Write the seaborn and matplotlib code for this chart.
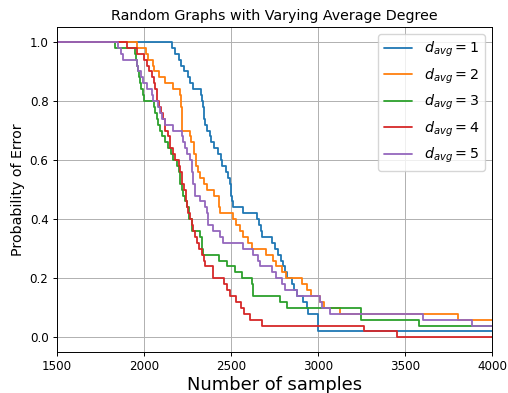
import matplotlib
matplotlib.use("Agg")
import matplotlib.pyplot as plt
import seaborn as sns
import pandas as pd

# step points (x where value changes, value after change)
x_d1 = [1500, 2160, 2180, 2200, 2215, 2230, 2250, 2265, 2280, 2330, 2335, 2340, 2345, 2350, 2360,
        2380, 2385, 2400, 2425, 2440, 2450, 2470, 2485, 2495, 2500, 2505, 2510, 2570, 2650, 2660,
        2670, 2680, 2735, 2750, 2770, 2785, 2800, 2810, 2820, 2850, 2860, 2880, 2915, 2935, 2940,
        3000, 4000]
y_d1 = [1.00, 0.98, 0.96, 0.94, 0.92, 0.90, 0.88, 0.86, 0.84, 0.82, 0.80, 0.78, 0.74, 0.72, 0.70,
        0.68, 0.66, 0.64, 0.62, 0.60, 0.58, 0.56, 0.54, 0.52, 0.48, 0.46, 0.44, 0.42, 0.40, 0.38,
        0.36, 0.34, 0.32, 0.30, 0.28, 0.26, 0.24, 0.22, 0.20, 0.18, 0.16, 0.14, 0.12, 0.10, 0.08,
        0.02, 0.02]

x_d2 = [1500, 1960, 2010, 2025, 2050, 2060, 2085, 2120, 2165, 2207, 2215, 2218, 2220, 2265, 2270,
        2285, 2300, 2310, 2320, 2345, 2360, 2400, 2430, 2435, 2510, 2530, 2550, 2570, 2600, 2620,
        2700, 2740, 2760, 2790, 2815, 2910, 2935, 2960, 3010, 3035, 3125, 3805, 4000]
y_d2 = [1.00, 0.98, 0.96, 0.94, 0.92, 0.90, 0.88, 0.86, 0.84, 0.82, 0.78, 0.74, 0.70, 0.68, 0.66,
        0.62, 0.58, 0.56, 0.54, 0.52, 0.50, 0.48, 0.44, 0.42, 0.40, 0.38, 0.36, 0.34, 0.32, 0.30,
        0.28, 0.26, 0.24, 0.22, 0.20, 0.18, 0.16, 0.14, 0.12, 0.10, 0.08, 0.06, 0.06]

x_d3 = [1500, 1833, 1950, 1955, 1960, 1965, 1972, 1978, 1985, 1995, 2002, 2055, 2063, 2072, 2082,
        2092, 2102, 2121, 2140, 2155, 2168, 2188, 2200, 2207, 2217, 2226, 2235, 2245, 2260, 2274,
        2322, 2332, 2341, 2433, 2475, 2523, 2561, 2619, 2628, 2782, 2820, 3245, 3582, 4000]
y_d3 = [1.00, 0.98, 0.96, 0.94, 0.92, 0.90, 0.88, 0.86, 0.84, 0.82, 0.80, 0.78, 0.76, 0.74, 0.72,
        0.70, 0.68, 0.66, 0.64, 0.62, 0.60, 0.58, 0.56, 0.52, 0.50, 0.48, 0.46, 0.44, 0.40, 0.36,
        0.34, 0.30, 0.28, 0.26, 0.24, 0.22, 0.20, 0.18, 0.14, 0.12, 0.10, 0.06, 0.04, 0.04]

x_d4 = [1500, 1900, 1960, 2000, 2015, 2030, 2044, 2055, 2063, 2073, 2085, 2100, 2111, 2121, 2140,
        2150, 2165, 2178, 2200, 2207, 2220, 2230, 2240, 2245, 2255, 2264, 2275, 2283, 2295, 2303,
        2315, 2332, 2345, 2351, 2398, 2460, 2475, 2494, 2530, 2560, 2575, 2609, 2676, 3264, 3452,
        4000]
y_d4 = [1.00, 0.98, 0.96, 0.94, 0.92, 0.90, 0.88, 0.86, 0.84, 0.80, 0.78, 0.76, 0.74, 0.70, 0.68,
        0.64, 0.62, 0.60, 0.58, 0.56, 0.52, 0.50, 0.46, 0.44, 0.42, 0.40, 0.38, 0.36, 0.34, 0.32,
        0.30, 0.28, 0.26, 0.24, 0.20, 0.18, 0.16, 0.14, 0.12, 0.10, 0.08, 0.06, 0.04, 0.02, 0.00,
        0.00]

x_d5 = [1500, 1852, 1870, 1881, 1958, 1967, 1985, 1996, 2015, 2044, 2053, 2082, 2092, 2105, 2121,
        2168, 2217, 2226, 2235, 2245, 2264, 2274, 2283, 2293, 2322, 2351, 2360, 2370, 2398, 2437,
        2456, 2571, 2628, 2657, 2667, 2734, 2760, 2791, 2810, 2878, 3011, 3021, 3069, 3605, 3883,
        4000]
y_d5 = [1.00, 0.98, 0.96, 0.94, 0.92, 0.90, 0.88, 0.86, 0.84, 0.82, 0.80, 0.78, 0.76, 0.74, 0.72,
        0.70, 0.68, 0.66, 0.64, 0.62, 0.60, 0.56, 0.52, 0.48, 0.46, 0.44, 0.42, 0.38, 0.36, 0.34,
        0.32, 0.30, 0.28, 0.26, 0.24, 0.22, 0.20, 0.18, 0.16, 0.14, 0.12, 0.10, 0.08, 0.06, 0.04,
        0.04]

labels = [r"$d_{avg} = 1$", r"$d_{avg} = 2$", r"$d_{avg} = 3$", r"$d_{avg} = 4$", r"$d_{avg} = 5$"]
series = [(x_d1, y_d1), (x_d2, y_d2), (x_d3, y_d3), (x_d4, y_d4), (x_d5, y_d5)]

rows = []
for lab, (xs, ys) in zip(labels, series):
    for xv, yv in zip(xs, ys):
        rows.append({"samples": xv, "error": yv, "graph": lab})
df = pd.DataFrame(rows)

sns.set_style("ticks")
plt.rcParams["font.family"] = ["DejaVu Sans"]
for k in ["text.color", "axes.labelcolor", "xtick.color", "ytick.color", "axes.edgecolor"]:
    plt.rcParams[k] = "black"
palette = ["#1f77b4", "#ff7f0e", "#2ca02c", "#d62728", "#9467bd"]

fig = plt.figure(figsize=(5.08, 3.93), dpi=100)
ax = fig.add_axes([0.112, 0.104, 0.857, 0.827])

sns.lineplot(data=df, x="samples", y="error", hue="graph", hue_order=labels,
             palette=palette, estimator=None, sort=False, drawstyle="steps-post",
             linewidth=1.3, ax=ax)

ax.set_xlim(1500, 4000)
ax.set_ylim(-0.05, 1.05)
ax.set_xticks([1500, 2000, 2500, 3000, 3500, 4000])
ax.set_yticks([0.0, 0.2, 0.4, 0.6, 0.8, 1.0])
ax.grid(True, color="#b0b0b0", linewidth=0.7)
ax.tick_params(labelsize=8.6, direction="out", length=3, width=0.7, pad=3)
for s in ax.spines.values():
    s.set_visible(True)
    s.set_color("black")
    s.set_linewidth(0.7)
ax.set_title("Random Graphs with Varying Average Degree", fontsize=10.3, pad=5)
ax.set_xlabel("Number of samples", fontsize=12.9, labelpad=1.5)
ax.set_ylabel("Probability of Error", fontsize=10.3, labelpad=3.4)
ax.legend(loc="upper right", fontsize=10.3, framealpha=0.8, borderaxespad=0.5)

fig.savefig("out.png", dpi=100)
